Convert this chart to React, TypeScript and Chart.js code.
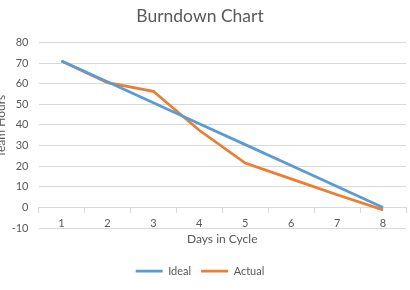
import React, { useEffect, useRef } from "react";
import { Chart, registerables } from "chart.js";

Chart.register(...registerables);

const days = ["1", "2", "3", "4", "5", "6", "7", "8"];
const idealHours = [71, 60.86, 50.71, 40.57, 30.43, 20.29, 10.14, 0];
const actualHours = [71, 60.5, 56.3, 37.4, 21.5, 13.8, 6.1, -1.2];

const FONT = "Lato, 'Open Sans', sans-serif";
const TEXT = "#595959";
const GRID = "#d9d9d9";

export default function App() {
  const ref = useRef<HTMLCanvasElement | null>(null);
  useEffect(() => {
    if (!ref.current) return;
    const chart = new Chart(ref.current, {
      type: "line",
      data: {
        labels: days,
        datasets: [
          {
            label: "Ideal",
            data: idealHours,
            borderColor: "#5B9BD5",
            backgroundColor: "#5B9BD5",
            borderWidth: 2.75,
            pointRadius: 0,
            tension: 0,
          },
          {
            label: "Actual",
            data: actualHours,
            borderColor: "#ED7D31",
            backgroundColor: "#ED7D31",
            borderWidth: 2.75,
            pointRadius: 0,
            tension: 0,
          },
        ],
      },
      options: {
        animation: false,
        responsive: false,
        maintainAspectRatio: false,
        layout: { padding: { left: 0, right: 4, top: 0, bottom: 3.5 } },
        plugins: {
          title: {
            display: true,
            text: "Burndown Chart",
            color: TEXT,
            font: { family: FONT, size: 17.5, weight: "normal" },
            padding: { top: 6, bottom: 15.4 },
          },
          legend: {
            position: "bottom",
            title: {
              display: true,
              text: " ",
              font: { size: 1 },
              padding: { top: 26.3, bottom: 0 },
            },
            labels: {
              color: TEXT,
              font: { family: FONT, size: 11 },
              usePointStyle: true,
              pointStyle: "line",
              pointStyleWidth: 27,
              boxWidth: 27,
              boxHeight: 11,
              padding: 10,
            },
          },
          tooltip: { enabled: false },
        },
        scales: {
          x: {
            type: "category",
            position: { y: 0 } as any,
            offset: true,
            afterFit: (s: any) => {
              s.height = 27.5;
            },
            grid: {
              display: true,
              drawOnChartArea: false,
              drawTicks: true,
              tickLength: 5,
              color: GRID,
              offset: true,
            },
            border: { display: true, color: GRID },
            ticks: {
              color: TEXT,
              font: { family: FONT, size: 11 },
              padding: 4,
              maxRotation: 0,
            },
            title: {
              display: true,
              text: "Days in Cycle",
              color: TEXT,
              font: { family: FONT, size: 12 },
              padding: { top: 0, bottom: -11.2 },
            },
          },
          y: {
            min: -10,
            max: 80,
            afterFit: (s: any) => {
              s.width = 44.5;
            },
            ticks: {
              stepSize: 10,
              color: TEXT,
              font: { family: FONT, size: 11 },
              padding: 10,
            },
            grid: { color: GRID, drawTicks: false },
            border: { display: false },
            title: {
              display: true,
              text: "\u00a0\u00a0\u00a0\u00a0\u00a0\u00a0Team Hours",
              color: TEXT,
              font: { family: FONT, size: 12 },
              padding: { top: 0, bottom: 0 },
            },
          },
        },
      },
    });
    return () => chart.destroy();
  }, []);
  return (
    <div style={{ position: "fixed", left: -6, top: 0, width: 416, height: 290, background: "#fff" }}>
      <canvas ref={ref} width={416} height={290} style={{ display: "block" }} />
    </div>
  );
}
